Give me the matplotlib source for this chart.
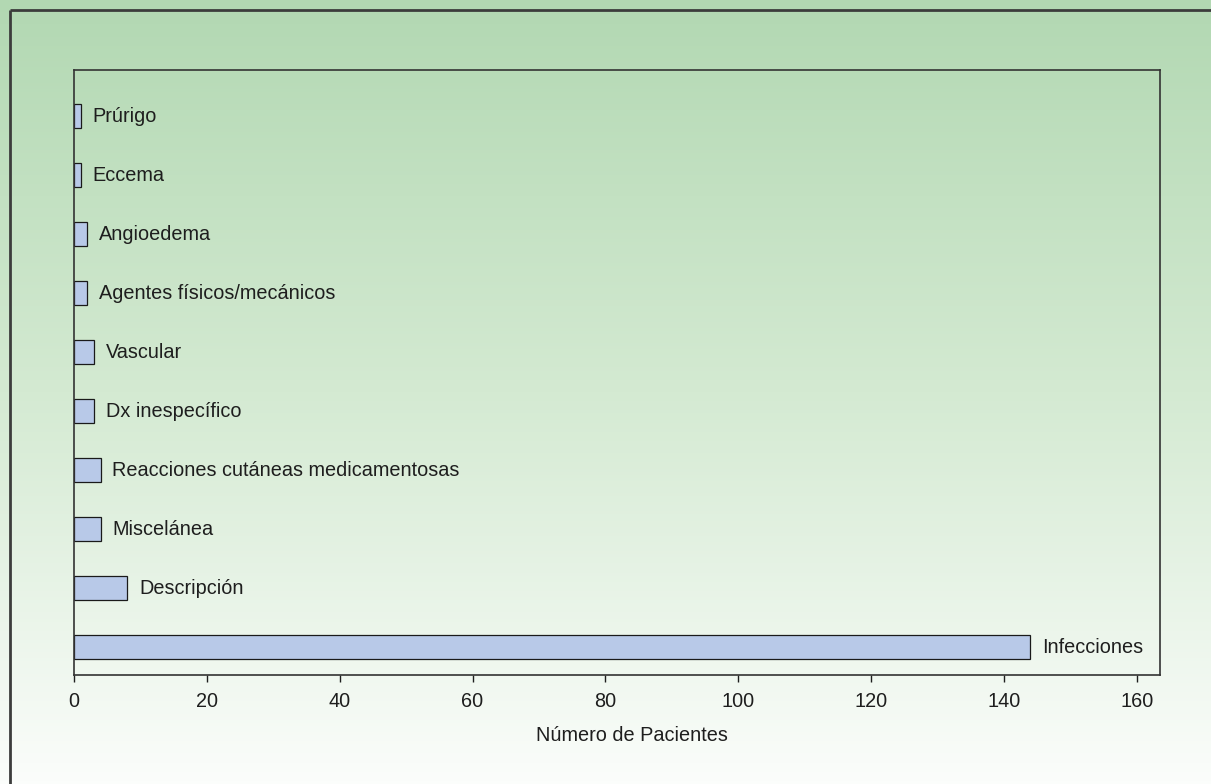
import matplotlib
matplotlib.use("Agg")
import matplotlib.pyplot as plt
import numpy as np
from matplotlib.colors import LinearSegmentedColormap

categories = ["Infecciones", "Descripción", "Miscelánea",
              "Reacciones cutáneas medicamentosas", "Dx inespecífico",
              "Vascular", "Agentes físicos/mecánicos", "Angioedema",
              "Eccema", "Prúrigo"]
values = [144, 8, 4, 4, 3, 3, 2, 2, 1, 1]
xticks = [0, 20, 40, 60, 80, 100, 120, 140, 160]

plt.rcParams['font.family'] = ['Liberation Sans', 'DejaVu Sans']

W, H = 1211, 784
fig = plt.figure(figsize=(W / 100, H / 100), dpi=100)

# gradient background
bg = fig.add_axes([0, 0, 1, 1], zorder=-10)
cmap = LinearSegmentedColormap.from_list("g", ["#b2d8b2", "#d4ead2", "#fbfdfb"])
grad = np.linspace(0, 1, 256).reshape(-1, 1)
bg.imshow(grad, aspect="auto", cmap=cmap, extent=[0, 1, 0, 1], origin="upper")
bg.set_xlim(0, 1); bg.set_ylim(0, 1)
bg.axis("off")
# frame lines (top and left)
x0 = 10 / W; y0 = 1 - 10 / H
bg.plot([x0, 1.01], [y0, y0], color="#3c3c3c", lw=2, solid_capstyle="butt")
bg.plot([x0, x0], [y0, -0.01], color="#3c3c3c", lw=2, solid_capstyle="butt")

left, right = 74 / W, 1160 / W
bottom, top = 1 - 675 / H, 1 - 70 / H
ax = fig.add_axes([left, bottom, right - left, top - bottom])
ax.set_facecolor("none")

fs = 14.3
y = np.arange(len(categories))
ax.barh(y, values, height=0.4, color="#b8c9e8", edgecolor="#1a1a1a", linewidth=0.9)
for yi, v, c in zip(y, values, categories):
    ax.annotate(c, (v, yi), xytext=(8.5, 0), textcoords="offset points",
                va="center", ha="left", fontsize=fs, color="#1e1e1e")

ax.set_xlim(0, 163.5)
ax.set_ylim(-0.47, 9.78)
ax.set_xticks(xticks)
ax.set_yticks([])
ax.tick_params(axis="x", direction="out", length=5, width=1, labelsize=fs,
               colors="#1e1e1e", pad=7)
for s in ax.spines.values():
    s.set_color("#333333")
    s.set_linewidth(1.2)
ax.set_xlabel("Número de Pacientes", fontsize=fs, color="#1e1e1e")
ax.xaxis.set_label_coords(0.514, -0.085)

fig.savefig("out.png", dpi=100)
